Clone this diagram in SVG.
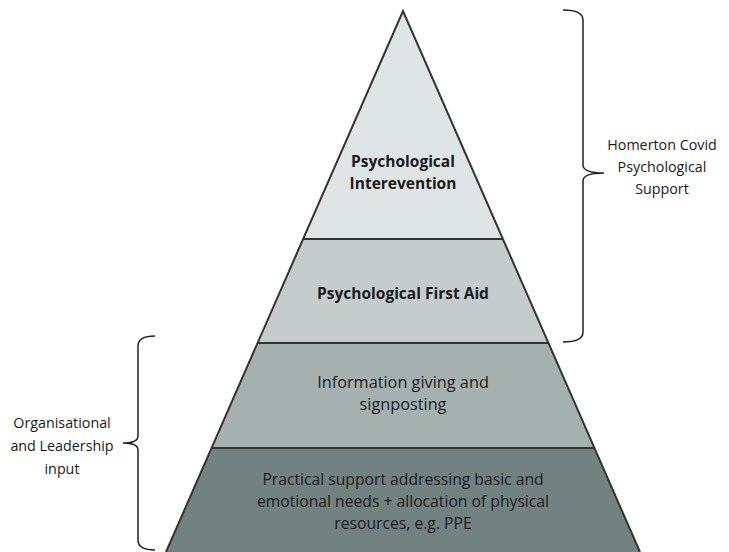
<svg xmlns="http://www.w3.org/2000/svg" width="729" height="552" viewBox="0 0 729 552">
<style>
.t{font-family:"Open Sans","Liberation Sans",sans-serif;fill:#1a1a1a;text-anchor:middle}
.b{font-weight:bold;font-size:15.5px}
.n{font-size:16.3px}
.m{font-size:15.7px}
.s{font-size:14.3px}
.sep{stroke:#333;stroke-width:2;fill:none}
.br{stroke:#222;stroke-width:1.5;fill:none}
</style>
<rect width="729" height="552" fill="#fff"/>
<g id="layer1">
<polygon points="403,11 303,239 503,239" fill="#dfe5e5"/>
<text class="t b" x="403" y="167">Psychological</text>
<text class="t b" x="403" y="189">Interevention</text>
</g>
<g id="layer2">
<polygon points="303,239 503,239 548,343 258,343" fill="#c4cdcc"/>
<text class="t b" x="403" y="299">Psychological First Aid</text>
</g>
<g id="layer3">
<polygon points="258,343 548,343 594,448 212,448" fill="#a5b1af"/>
<text class="t n" x="403" y="388">Information giving and</text>
<text class="t n" x="403" y="410">signposting</text>
</g>
<g id="layer4">
<polygon points="212,448 594,448 640,552 166,552" fill="#718280"/>
<text class="t m" x="403" y="485">Practical support addressing basic and</text>
<text class="t m" x="403" y="507">emotional needs + allocation of physical</text>
<text class="t m" x="403" y="529">resources, e.g. PPE</text>
</g>
<g id="outline">
<polyline class="sep" points="166,552 403,11 640,552" stroke-width="1.8"/>
<line class="sep" x1="303" y1="239" x2="503" y2="239"/>
<line class="sep" x1="258" y1="343" x2="548" y2="343"/>
<line class="sep" x1="212" y1="448" x2="594" y2="448"/>
</g>
<g id="brace-right">
<path class="br" d="M563,10 Q583,10 583,20 L583,165 Q583,173 604,173 Q583,173 583,181 L583,332 Q583,342 563,342"/>
<text class="t s" x="662" y="150">Homerton Covid</text>
<text class="t s" x="662" y="172">Psychological</text>
<text class="t s" x="662" y="194">Support</text>
</g>
<g id="brace-left">
<path class="br" d="M155,336 Q138,336 138,346 L138,436 Q138,443 123,443 Q138,443 138,450 L138,540 Q138,550 155,550"/>
<text class="t s" x="62" y="428">Organisational</text>
<text class="t s" x="62" y="451">and Leadership</text>
<text class="t s" x="62" y="474">input</text>
</g>
</svg>
